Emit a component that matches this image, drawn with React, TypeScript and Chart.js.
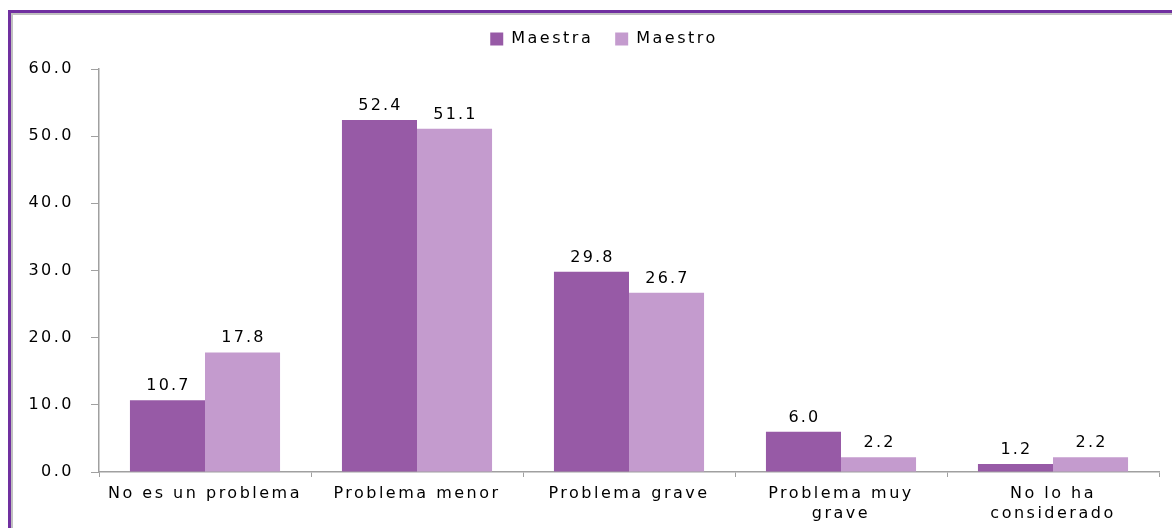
import React, { useEffect, useRef } from "react";
import { Chart, registerables } from "chart.js";

Chart.register(...registerables);

const categories: (string | string[])[] = [
  "No es un problema",
  "Problema menor",
  "Problema grave",
  ["Problema muy", "grave"],
  ["No lo ha", "considerado"],
];
const maestra = [10.7, 52.4, 29.8, 6.0, 1.2];
const maestro = [17.8, 51.1, 26.7, 2.2, 2.2];
const seriesNames = ["Maestra", "Maestro"];
const yTicks = [0, 10, 20, 30, 40, 50, 60];

const FONT = '"DejaVu Sans", Verdana, sans-serif';
const SPACING = "2.5px";
const LEGEND_EXTRA = 12;

const spacingPlugin = {
  id: "spacing",
  beforeUpdate(chart: any) {
    chart.ctx.letterSpacing = SPACING;
  },
  beforeLayout(chart: any) {
    const lg = chart.legend;
    if (lg && !lg.__patched) {
      const orig = lg.fit;
      lg.fit = function () {
        orig.call(this);
        this.height += LEGEND_EXTRA;
      };
      lg.__patched = true;
    }
  },
  beforeDraw(chart: any) {
    chart.ctx.letterSpacing = SPACING;
  },
};

const valueLabels = {
  id: "valueLabels",
  afterDatasetsDraw(chart: any) {
    const ctx = chart.ctx;
    ctx.save();
    ctx.letterSpacing = "2.2px";
    ctx.font = `16px ${FONT}`;
    ctx.fillStyle = "#000";
    ctx.textAlign = "center";
    ctx.textBaseline = "alphabetic";
    chart.data.datasets.forEach((ds: any, i: number) => {
      const meta = chart.getDatasetMeta(i);
      meta.data.forEach((el: any, j: number) => {
        ctx.fillText(Number(ds.data[j]).toFixed(1), el.x + 1, el.y - 10);
      });
    });
    ctx.restore();
  },
};

export default function App() {
  const ref = useRef<HTMLCanvasElement>(null);
  useEffect(() => {
    if (!ref.current) return;
    const chart = new Chart(ref.current, {
      type: "bar",
      data: {
        labels: categories,
        datasets: [
          {
            label: seriesNames[0],
            data: maestra,
            backgroundColor: "#975AA6",
            categoryPercentage: 0.708,
            barPercentage: 1,
            yAxisID: "y",
          },
          {
            label: seriesNames[1],
            data: maestro,
            backgroundColor: "#C49BCE",
            categoryPercentage: 0.708,
            barPercentage: 1,
            yAxisID: "y",
          },
        ],
      },
      options: {
        animation: false,
        responsive: false,
        devicePixelRatio: 1,
        layout: { padding: { left: 0, right: 0, top: 9, bottom: 0 } },
        plugins: {
          legend: {
            position: "top",
            labels: {
              boxWidth: 13,
              boxHeight: 13,
              padding: 22,
              color: "#000",
              font: { family: FONT, size: 16 },
            },
          },
          tooltip: { enabled: false },
        },
        scales: {
          x: {
            grid: {
              offset: true,
              drawOnChartArea: false,
              drawTicks: true,
              tickLength: 5,
              color: "#A0A0A0",
            },
            border: { display: true, color: "#A0A0A0", width: 1.5 },
            ticks: {
              color: "#000",
              padding: 7,
              maxRotation: 0,
              autoSkip: false,
              font: { family: FONT, size: 16, lineHeight: 1.25 },
            },
            afterFit(scale: any) {
              scale.height = 56;
            },
          },
          y: {
            min: 0,
            max: 60,
            grid: {
              drawOnChartArea: false,
              drawTicks: true,
              tickLength: 8,
              color: "#A0A0A0",
            },
            border: { display: true, color: "#A0A0A0", width: 1.5 },
            afterBuildTicks(scale: any) {
              scale.ticks = yTicks.map((v) => ({ value: v }));
            },
            ticks: {
              color: "#000",
              padding: 17,
              font: { family: FONT, size: 16 },
              callback: (v: any) => Number(v).toFixed(1),
            },
            afterFit(scale: any) {
              scale.width = 99;
            },
          },
          spacer: {
            type: "linear",
            position: "right",
            display: true,
            grid: { display: false, drawTicks: false },
            border: { display: false },
            ticks: { display: false },
            afterFit(scale: any) {
              scale.width = 49;
            },
          },
        },
      },
      plugins: [spacingPlugin, valueLabels],
    });
    return () => chart.destroy();
  }, []);

  return (
    <>
      <div
        style={{
          position: "fixed",
          left: 8,
          top: 10,
          width: 1400,
          height: 800,
          borderTop: "3px solid #7030A0",
          borderLeft: "3px solid #7030A0",
          boxSizing: "border-box",
          background: "#fff",
        }}
      >
        <div
          style={{
            position: "absolute",
            left: 0,
            top: 0,
            right: 0,
            bottom: 0,
            borderTop: "2px solid #C0C0C0",
            borderLeft: "2px solid #C0C0C0",
          }}
        />
      </div>
      <canvas
        ref={ref}
        width={1208}
        height={528}
        style={{ position: "fixed", left: 0, top: 0, width: 1208, height: 528 }}
      />
    </>
  );
}
